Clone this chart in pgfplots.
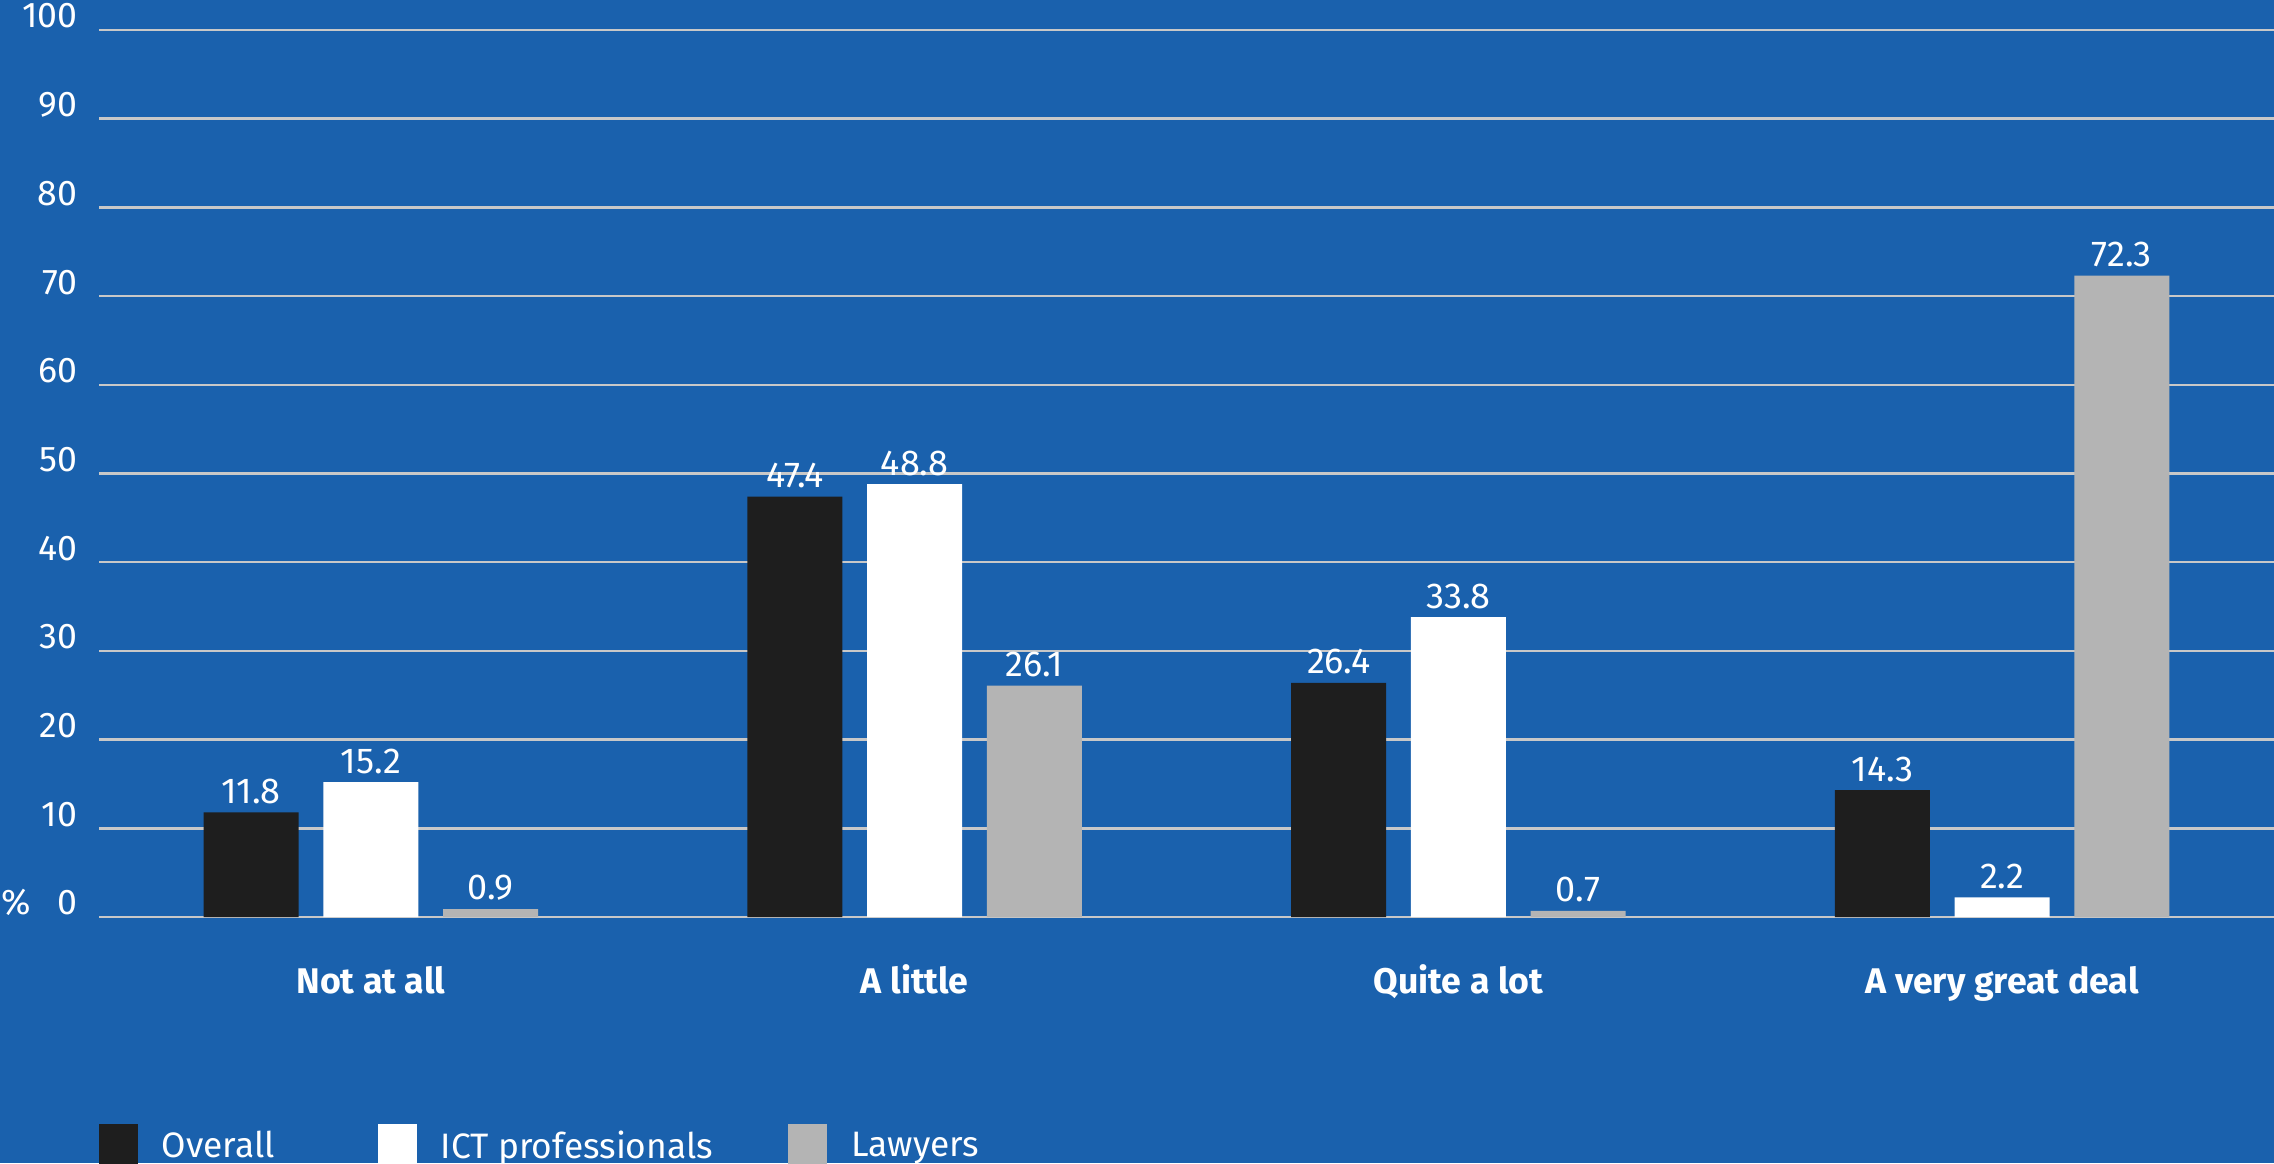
\documentclass[border=0pt]{standalone}
\usepackage{pgfplots}
\pgfplotsset{compat=1.18}
\usepackage{fontspec}
\setmainfont{Fira Sans}
\definecolor{bg}{RGB}{26,97,173}
\definecolor{gridc}{RGB}{200,200,200}
\definecolor{barblack}{RGB}{30,30,30}
\definecolor{bargray}{RGB}{180,180,180}
\begin{document}
\begin{tikzpicture}[x=1pt,y=1pt]
\fill[bg] (0,0) rectangle (682.2,348.9);
\useasboundingbox (0,0) rectangle (682.2,348.9);
\begin{axis}[
  at={(29.7pt,73.8pt)}, anchor=south west,
  scale only axis, width=652.5pt, height=266.1pt,
  xmin=-0.5, xmax=3.5, ymin=0, ymax=100,
  xtick={0,1,2,3},
  xticklabels={Not at all, A little, Quite a lot, A very great deal},
  ytick={0,10,...,100},
  axis line style={draw=none}, major tick length=0pt,
  ymajorgrids, grid style={color=gridc, line width=0.75pt},
  xticklabel style={font=\fontsize{10.7}{13}\selectfont\bfseries, text=white, anchor=base, inner sep=0pt, yshift=-22.8pt},
  yticklabel style={font=\fontsize{10.7}{12}\selectfont, text=white, anchor=south east, inner sep=0pt, xshift=-6.3pt, yshift=0.3pt},
  /pgf/number format/assume math mode=true,
  ybar=7.4pt,
  bar width=28.5pt,
  nodes near coords={\pgfmathprintnumber[fixed,fixed zerofill,precision=1,assume math mode=true]{\pgfplotspointmeta}},
  nodes near coords style={font=\fontsize{10.8}{12}\selectfont, text=white, anchor=south, inner sep=0pt, yshift=2.4pt},
  legend columns=3,
  legend style={at={(0,-0.2334)}, anchor=north west, draw=none, fill=none, inner sep=0pt, outer sep=0pt, text=white, font=\fontsize{10.6}{13}\selectfont,
    /tikz/every odd column/.append style={column sep=7.2pt},
    /tikz/column 2/.append style={column sep=30.9pt},
    /tikz/column 4/.append style={column sep=22.6pt},
    nodes={inner sep=0pt}},
  legend image code/.code={\fill[#1] (0pt,-7pt) rectangle (11.7pt,6.9pt);},
  clip=false,
]
\addplot[fill=barblack, draw=none] coordinates {(0,11.8) (1,47.4) (2,26.4) (3,14.3)};
\addlegendentry{Overall}
\addplot[fill=white, draw=none] coordinates {(0,15.2) (1,48.8) (2,33.8) (3,2.2)};
\addlegendentry{ICT professionals}
\addplot[fill=bargray, draw=none] coordinates {(0,0.9) (1,26.1) (2,0.7) (3,72.3)};
\addlegendentry{Lawyers}
\node[anchor=south east, inner sep=0pt, text=white, font=\fontsize{10.7}{12}\selectfont, xshift=-20.1pt, yshift=0.3pt] at (rel axis cs:0,0) {\%};
\end{axis}
\end{tikzpicture}
\end{document}
